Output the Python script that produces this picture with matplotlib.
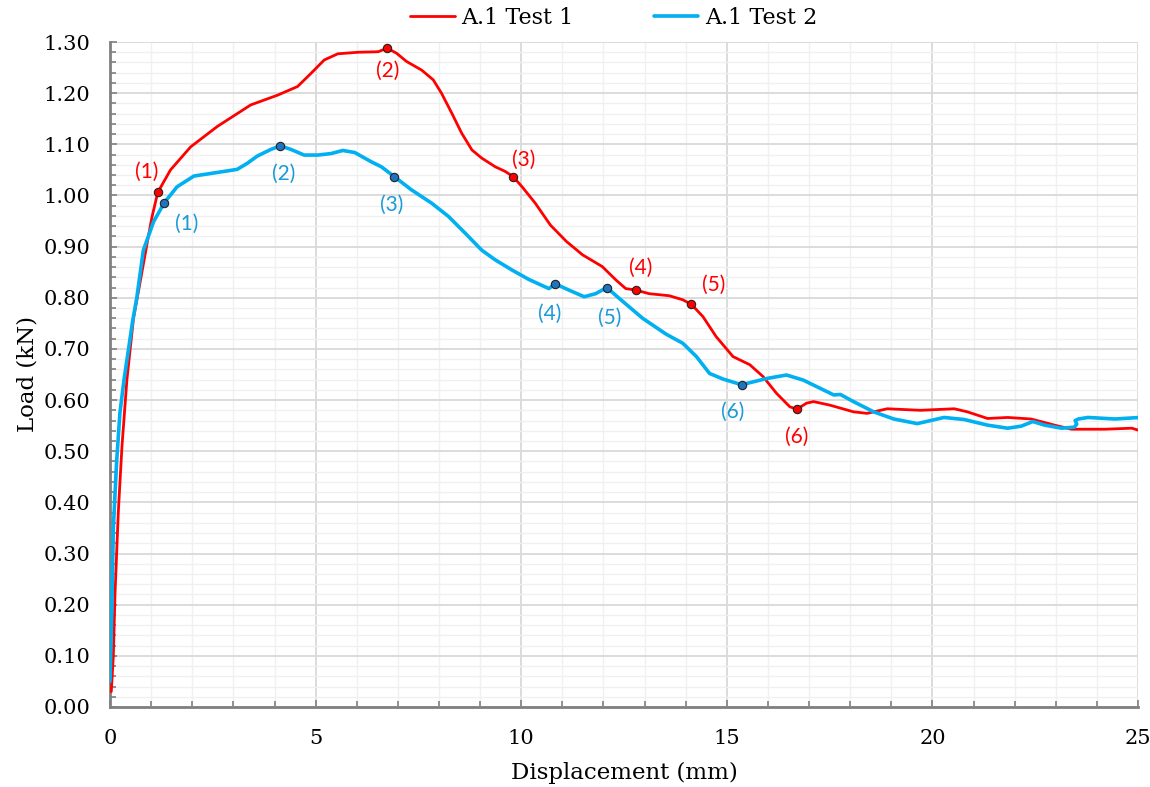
import numpy as np
import matplotlib
matplotlib.use('Agg')
import matplotlib.pyplot as plt
from matplotlib.ticker import MultipleLocator, FormatStrFormatter

# test 1 (red) - displacement (mm), load (kN)
t1_x = [0.03, 0.08, 0.12, 0.20, 0.29, 0.41, 0.57, 0.73, 0.90, 1.02, 1.16, 1.47, 1.96, 2.61,
        3.42, 4.07, 4.56, 4.89, 5.21, 5.54, 6.03, 6.52, 6.74, 6.97, 7.21, 7.58, 7.86, 8.06,
        8.31, 8.55, 8.80, 9.04, 9.37, 9.61, 9.80, 10.02, 10.34, 10.71, 11.10, 11.49, 11.97,
        12.30, 12.54, 12.79, 13.11, 13.60, 13.93, 14.14, 14.42, 14.74, 15.15, 15.56, 15.88,
        16.21, 16.53, 16.70, 16.94, 17.11, 17.51, 18.08, 18.41, 18.90, 19.71, 20.53, 20.85,
        21.34, 21.83, 22.40, 22.97, 23.38, 24.19, 24.85, 25.05]
t1_y = [0.03, 0.10, 0.22, 0.38, 0.51, 0.64, 0.76, 0.83, 0.906, 0.958, 1.006, 1.05, 1.095, 1.135,
        1.177, 1.196, 1.213, 1.239, 1.265, 1.277, 1.280, 1.281, 1.288, 1.278, 1.262, 1.245,
        1.226, 1.200, 1.161, 1.122, 1.089, 1.073, 1.056, 1.047, 1.037, 1.017, 0.985, 0.942,
        0.910, 0.884, 0.861, 0.835, 0.818, 0.815, 0.808, 0.804, 0.796, 0.787, 0.763, 0.724,
        0.685, 0.669, 0.646, 0.613, 0.587, 0.582, 0.594, 0.597, 0.590, 0.577, 0.574, 0.583,
        0.580, 0.583, 0.577, 0.564, 0.566, 0.563, 0.551, 0.543, 0.543, 0.545, 0.540]

# test 2 (blue)
t2_x = [0.00, 0.02, 0.04, 0.08, 0.16, 0.24, 0.34, 0.45, 0.55, 0.65, 0.81, 1.06, 1.32, 1.63,
        2.04, 2.61, 3.09, 3.34, 3.58, 3.91, 4.14, 4.40, 4.72, 5.05, 5.38, 5.66, 5.95, 6.35,
        6.60, 6.91, 7.33, 7.82, 8.23, 8.64, 9.04, 9.37, 9.78, 10.18, 10.67, 10.83, 11.16,
        11.53, 11.81, 12.08, 12.38, 12.95, 13.52, 13.93, 14.26, 14.58, 14.91, 15.36, 15.96,
        16.45, 16.86, 17.60, 17.76, 18.08, 18.57, 19.06, 19.63, 19.96, 20.28, 20.77, 21.34,
        21.83, 22.16, 22.44, 22.73, 23.14, 23.45, 23.51, 23.47, 23.55, 23.78, 24.44, 25.05]
t2_y = [0.05, 0.12, 0.18, 0.35, 0.48, 0.575, 0.64, 0.70, 0.755, 0.80, 0.893, 0.949, 0.986, 1.017,
        1.038, 1.045, 1.051, 1.063, 1.077, 1.090, 1.097, 1.090, 1.079, 1.079, 1.082, 1.088,
        1.084, 1.066, 1.056, 1.037, 1.011, 0.985, 0.959, 0.926, 0.893, 0.874, 0.854, 0.836,
        0.818, 0.827, 0.815, 0.802, 0.808, 0.820, 0.799, 0.760, 0.729, 0.711, 0.685, 0.652,
        0.641, 0.630, 0.642, 0.649, 0.639, 0.610, 0.611, 0.597, 0.577, 0.563, 0.554, 0.560,
        0.566, 0.562, 0.551, 0.545, 0.549, 0.558, 0.551, 0.545, 0.547, 0.553, 0.560, 0.563,
        0.566, 0.563, 0.566]

# marked points (1)-(6)
t1_pts_x = [1.16, 6.74, 9.80, 12.79, 14.14, 16.70]
t1_pts_y = [1.006, 1.288, 1.037, 0.815, 0.787, 0.582]
t2_pts_x = [1.32, 4.14, 6.91, 10.83, 12.08, 15.36]
t2_pts_y = [0.986, 1.097, 1.037, 0.827, 0.820, 0.630]

# label positions
t1_lab_x = [0.90, 6.75, 10.07, 12.90, 14.69, 16.69]
t1_lab_y = [1.046, 1.243, 1.069, 0.858, 0.825, 0.528]
t2_lab_x = [1.86, 4.23, 6.84, 10.68, 12.15, 15.15]
t2_lab_y = [0.944, 1.042, 0.981, 0.768, 0.760, 0.577]
labels = ['(1)', '(2)', '(3)', '(4)', '(5)', '(6)']

red = '#FF0000'
blue = '#00B0F0'

fig = plt.figure(figsize=(11.5, 7.87), dpi=100)
ax = fig.add_axes([0.0957, 0.1017, 0.8939, 0.8449])

ax.plot(t1_x, t1_y, color=red, lw=2, label='A.1 Test 1', zorder=3,
        solid_joinstyle='round', solid_capstyle='round')
ax.plot(t2_x, t2_y, color=blue, lw=2.6, label='A.1 Test 2', zorder=3,
        solid_joinstyle='round', solid_capstyle='round')

ax.plot(t1_pts_x, t1_pts_y, ls='none', marker='o', ms=6, mfc=red, mec='#222222', mew=0.8, zorder=4)
ax.plot(t2_pts_x, t2_pts_y, ls='none', marker='o', ms=6, mfc='#1F74C0', mec='#222222', mew=0.8, zorder=4)

for lx, ly, t in zip(t1_lab_x, t1_lab_y, labels):
    ax.text(lx, ly, t, color='#FF0000', fontsize=15, family='Lato', ha='center', va='center')
for lx, ly, t in zip(t2_lab_x, t2_lab_y, labels):
    ax.text(lx, ly, t, color='#1A9AD6', fontsize=15, family='Lato', ha='center', va='center')

ax.set_xlim(0, 25)
ax.set_ylim(0, 1.30)
ax.xaxis.set_major_locator(MultipleLocator(5))
ax.xaxis.set_minor_locator(MultipleLocator(1))
ax.yaxis.set_major_locator(MultipleLocator(0.1))
ax.yaxis.set_minor_locator(MultipleLocator(0.02))
ax.yaxis.set_major_formatter(FormatStrFormatter('%.2f'))

ax.grid(which='major', color='#D9D9D9', lw=1.3, zorder=0)
ax.grid(which='minor', color='#F0F0F0', lw=1.0, zorder=0)
ax.set_axisbelow(True)

for s in ['top', 'right']:
    ax.spines[s].set_visible(False)
for s in ['left', 'bottom']:
    ax.spines[s].set_color('#808080')
    ax.spines[s].set_linewidth(2)

ax.tick_params(which='both', direction='in', color='#808080', width=1.2)
ax.tick_params(which='major', length=5, labelsize=15)
ax.tick_params(which='minor', length=4)
ax.tick_params(axis='x', which='major', pad=16)
ax.tick_params(axis='y', which='major', pad=14)
for lab in ax.get_xticklabels() + ax.get_yticklabels():
    lab.set_family('DejaVu Serif')

ax.set_xlabel('Displacement (mm)', family='DejaVu Serif', fontsize=16.5, labelpad=10)
ax.set_ylabel('Load (kN)', family='DejaVu Serif', fontsize=16.5, labelpad=4)

ax.legend(loc='lower center', bbox_to_anchor=(0.49, 1.0), ncol=2, frameon=False,
          prop={'family': 'DejaVu Serif', 'size': 16}, handlelength=2.0, handletextpad=0.3,
          columnspacing=3.6, borderaxespad=0.2)

plt.savefig('out.png', dpi=100)
